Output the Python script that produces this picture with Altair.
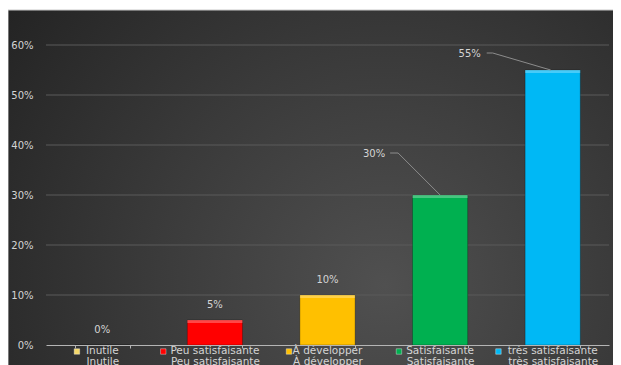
import altair as alt
import pandas as pd

categories = ["Inutile", "Peu satisfaisante", "À développer", "Satisfaisante", "très satisfaisante"]
values = [0.0, 0.05, 0.10, 0.30, 0.55]
colors = ["#f5d86a", "#ff0000", "#ffc000", "#00b050", "#00b8f5"]
y_ticks = [0, 0.1, 0.2, 0.3, 0.4, 0.5, 0.6]

df = pd.DataFrame({"cat": categories, "val": values})
grid_df = pd.DataFrame({"val": y_ticks[1:]})
bg_df = pd.DataFrame({"k": [0]})

W, H = 563, 300
TXT = "#d4d4d4"
FONT = "DejaVu Sans"

x = alt.X(
    "cat:N", sort=categories,
    scale=alt.Scale(domain=categories, paddingInner=0.51, paddingOuter=0.255),
    axis=alt.Axis(title=None, labelColor=TXT, labelFontSize=10.5, labelFont=FONT,
                  labelPadding=8, labelAngle=0, labelBaseline="top",
                  domainColor="#b5b5b5", tickColor="#b5b5b5", tickSize=3,
                  tickBand="extent", grid=False, zindex=1),
)
y = alt.Y(
    "val:Q",
    scale=alt.Scale(domain=[0, 0.6], nice=False),
    axis=alt.Axis(values=y_ticks, format=".0%", title=None, labelColor=TXT,
                  labelFontSize=10, labelFont=FONT, labelPadding=13,
                  domain=False, ticks=False, grid=False, zindex=1),
)
color = alt.Color("cat:N", scale=alt.Scale(domain=categories, range=colors), legend=None)

base = alt.Chart(df)

grad = alt.Gradient(
    gradient="radial",
    stops=[alt.GradientStop(color="#505050", offset=0),
           alt.GradientStop(color="#3a3a3a", offset=0.5),
           alt.GradientStop(color="#232323", offset=1)],
    x1=0.62, y1=0.66, x2=0.62, y2=0.66, r1=0, r2=0.78,
)
bg = alt.Chart(bg_df).mark_rect(fill=grad, stroke="#c8c8c8", strokeWidth=1).encode(
    x=alt.value(-38), x2=alt.value(W + 6), y=alt.value(-35), y2=alt.value(H + 22)
)

grid = alt.Chart(grid_df).mark_rule(color="#5a5a5a", strokeWidth=1).encode(
    y=y, x=alt.value(0), x2=alt.value(W))

bars = base.mark_bar(stroke="#000000", strokeOpacity=0.25, strokeWidth=1).encode(x=x, y=y, color=color)

# light bevel along the top of each bar
bevel = base.transform_filter(alt.datum.val > 0).mark_bar(
    fill="#ffffff", opacity=0.28, y2Offset=3, xOffset=0
).encode(x=x, y=y, y2="val:Q")

small_labels = base.transform_filter(alt.datum.val < 0.2).mark_text(
    dy=-15, baseline="middle", color=TXT, fontSize=10, font=FONT
).encode(x=x, y=y, text=alt.Text("val:Q", format=".0%"))

def leader(cat, tdx, tdy, hx1, hx2, hy, ex, ey):
    sub = base.transform_filter(alt.datum.cat == cat)
    txt = sub.mark_text(dx=tdx, dy=tdy, baseline="middle", color=TXT, fontSize=10, font=FONT).encode(
        x=x, y=y, text=alt.Text("val:Q", format=".0%"))
    hline = sub.mark_rule(color="#8c8c8c", strokeWidth=1, xOffset=hx1, x2Offset=hx2,
                          yOffset=hy, y2Offset=hy).encode(x=x, x2="cat:N", y=y, y2="val:Q")
    dline = sub.mark_rule(color="#8c8c8c", strokeWidth=1, xOffset=hx2, x2Offset=ex,
                          yOffset=hy, y2Offset=ey).encode(x=x, x2="cat:N", y=y, y2="val:Q")
    return [hline, dline, txt]

lead30 = leader(categories[3], -66, -41, -50, -42, -42, 0, 0)
lead55 = leader(categories[4], -83, -16, -66, -60, -17, -2, 0)

row1 = base.mark_text(baseline="top", color=TXT, fontSize=10.5, font=FONT).encode(
    x=x, y=alt.value(H + 1), text="cat:N")

# xOffset places the mark at the band start; shift by half the band width
keys = base.transform_calculate(
    off="bandwidth('x') / 2 - length(datum.cat) * 5.25 / 2 - 7"
).mark_square(
    size=30, filled=True, stroke="#ffffff", strokeWidth=0.6, strokeOpacity=0.6, opacity=1
).encode(x=x, xOffset=alt.XOffset("off:Q", scale=None), y=alt.value(H + 6.5), color=color)

chart = alt.layer(bg, grid, bars, bevel, small_labels, *lead30, *lead55, row1, keys).properties(
    width=W, height=H,
    autosize=alt.AutoSizeParams(type="none"),
    padding={"left": 38, "top": 37, "right": 4, "bottom": 20},
    background="white",
).configure_view(stroke=None).configure(font=FONT)

chart.save("out.html", embed_options={"renderer": "svg", "actions": False})
